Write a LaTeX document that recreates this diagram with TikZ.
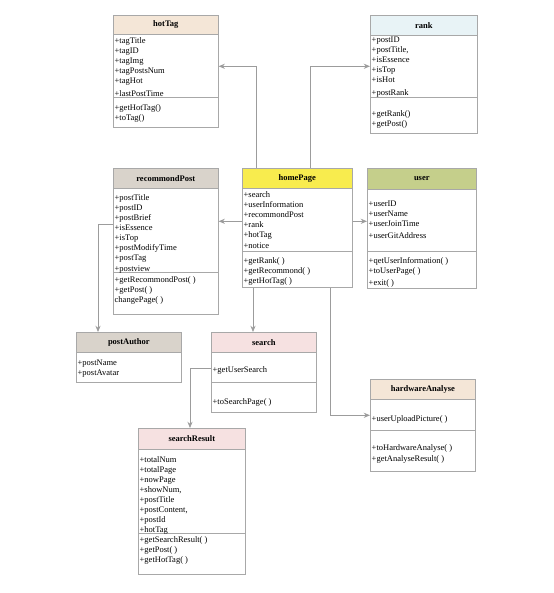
\documentclass[tikz,border=0pt]{standalone}
\usepackage{fontspec}
\setmainfont{Liberation Serif}
\usetikzlibrary{arrows.meta}

\definecolor{boxgray}{HTML}{A8A8A8}
\definecolor{linegray}{HTML}{9C9C9C}
\definecolor{peachHead}{HTML}{F4E6D7}
\definecolor{cyanHead}{HTML}{E8F3F6}
\definecolor{taupeHead}{HTML}{D9D3CB}
\definecolor{yellowHead}{HTML}{F8EC4E}
\definecolor{oliveHead}{HTML}{C5CF8B}
\definecolor{pinkHead}{HTML}{F6E1E1}

\begin{document}
\begin{tikzpicture}[x=1pt,y=-1pt,box/.style={draw=boxgray,fill=white,line width=0.6pt,anchor=north west,inner sep=0pt},head/.style={draw=boxgray,line width=0.6pt,anchor=north west,inner sep=0pt,font=\fontsize{8.5}{10}\selectfont\bfseries},list/.style={anchor=north west,inner sep=0pt,align=left,font=\fontsize{8.5}{10}\selectfont},rule/.style={draw=boxgray,line width=0.6pt},conn/.style={-{Stealth[length=2.2mm,width=1.8mm]},line width=0.8pt,draw=linegray}]
\useasboundingbox (0,0) rectangle (553,593);
% hotTag
\node[box,minimum width=105pt,minimum height=112pt] (hotTag) at (113,15) {};
\node[head,fill=peachHead,minimum width=105pt,minimum height=19pt] (hotTagT) at (113,15) {hotTag};
\draw[rule] (113,97) -- (218,97);
\node[list] (hotTagA) at (114.5,37.3) {+tagTitle\\+tagID\\+tagImg\\+tagPostsNum\\+tagHot\\[3pt]+lastPostTime};
\node[list] (hotTagM) at (114.5,104.3) {+getHotTag()\\+toTag()};
% rank
\node[box,minimum width=107pt,minimum height=118pt] (rank) at (370,15) {};
\node[head,fill=cyanHead,minimum width=107pt,minimum height=20pt] (rankT) at (370,15) {rank};
\draw[rule] (370,97) -- (477,97);
\node[list] (rankA) at (371.5,36.3) {+postID\\+postTitle,\\+isEssence\\+isTop\\+isHot\\[3pt]+postRank};
\node[list] (rankM) at (371.5,110.3) {+getRank()\\+getPost()};
% recommondPost
\node[box,minimum width=105pt,minimum height=146pt] (recommondPost) at (113,168) {};
\node[head,fill=taupeHead,minimum width=105pt,minimum height=20pt] (recommondPostT) at (113,168) {recommondPost};
\draw[rule] (113,272) -- (218,272);
\node[list] (recommondPostA) at (114.5,194.8) {+postTitle\\+postID\\+postBrief\\+isEssence\\+isTop\\+postModifyTime\\+postTag\\[0.5pt]+postview};
\node[list] (recommondPostM) at (114.5,276.3) {+getRecommondPost( )\\+getPost( )\\[0.5pt]changePage( )};
% homePage
\node[box,minimum width=110pt,minimum height=119pt] (homePage) at (242,168) {};
\node[head,fill=yellowHead,minimum width=110pt,minimum height=20pt] (homePageT) at (242,168) {homePage};
\draw[rule] (242,251) -- (352,251);
\node[list] (homePageA) at (243.5,191.8) {+search\\+userInformation\\+recommondPost\\+rank\\+hotTag\\[1pt]+notice};
\node[list] (homePageM) at (243.5,257) {+getRank( )\\+getRecommond( )\\+getHotTag( )};
% user
\node[box,minimum width=109pt,minimum height=120pt] (user) at (367,168) {};
\node[head,fill=oliveHead,minimum width=109pt,minimum height=21pt] (userT) at (367,168) {user};
\draw[rule] (367,251) -- (476,251);
\node[list] (userA) at (368.5,201) {+userID\\+userName\\+userJoinTime\\[2pt]+userGitAddress};
\node[list] (userM) at (368.5,257) {+qetUserInformation( )\\+toUserPage( )\\[2pt]+exit( )};
% postAuthor
\node[box,minimum width=105pt,minimum height=50pt] (postAuthor) at (76,332) {};
\node[head,fill=taupeHead,minimum width=105pt,minimum height=20pt] (postAuthorT) at (76,332) {postAuthor};
\node[list] (postAuthorA) at (77.5,360) {+postName\\+postAvatar};
% search
\node[box,minimum width=105pt,minimum height=80pt] (search) at (211,332) {};
\node[head,fill=pinkHead,minimum width=105pt,minimum height=20pt] (searchT) at (211,332) {search};
\draw[rule] (211,382) -- (316,382);
\node[list] (searchA) at (212.5,366) {+getUserSearch};
\node[list] (searchM) at (212.5,398) {+toSearchPage( )};
% hardwareAnalyse
\node[box,minimum width=105pt,minimum height=92pt] (hardwareAnalyse) at (370,379) {};
\node[head,fill=peachHead,minimum width=105pt,minimum height=20pt] (hardwareAnalyseT) at (370,379) {hardwareAnalyse};
\draw[rule] (370,430) -- (475,430);
\node[list] (hardwareAnalyseA) at (371.5,415) {+userUploadPicture( )};
\node[list] (hardwareAnalyseM) at (371.5,444) {+toHardwareAnalyse( )\\[1pt]+getAnalyseResult( )};
% searchResult
\node[box,minimum width=107pt,minimum height=146pt] (searchResult) at (138,428) {};
\node[head,fill=pinkHead,minimum width=107pt,minimum height=21pt] (searchResultT) at (138,428) {searchResult};
\draw[rule] (138,533) -- (245,533);
\node[list] (searchResultA) at (139.5,456.5) {+totalNum\\+totalPage\\+nowPage\\+showNum,\\+postTitle\\+postContent,\\+postId\\+hotTag};
\node[list] (searchResultM) at (139.5,536.5) {+getSearchResult( )\\+getPost( )\\+getHotTag( )};
% connectors
\draw[conn] ([xshift=14pt]homePage.north west) |- ([yshift=5pt]hotTag.east);
\draw[conn] ([xshift=-42pt]homePage.north east) |- ([yshift=8pt]rank.west);
\draw[conn] ([yshift=6.5pt]homePage.west) -- ([yshift=6.5pt]homePage.west -| recommondPost.east);
\draw[conn] ([yshift=6.5pt]homePage.east) -- ([yshift=6.5pt]homePage.east -| user.west);
\draw[conn] ([yshift=17pt]recommondPost.west) -| ([xshift=22pt]postAuthor.north west);
\draw[conn] ([xshift=11pt]homePage.south west) -- ([xshift=11pt]homePage.south west |- search.north);
\draw[conn] ([xshift=-22pt]homePage.south east) |- ([yshift=10pt]hardwareAnalyse.west);
\draw[conn] ([yshift=4pt]search.west) -| ([xshift=52pt]searchResult.north west);
\end{tikzpicture}
\end{document}
